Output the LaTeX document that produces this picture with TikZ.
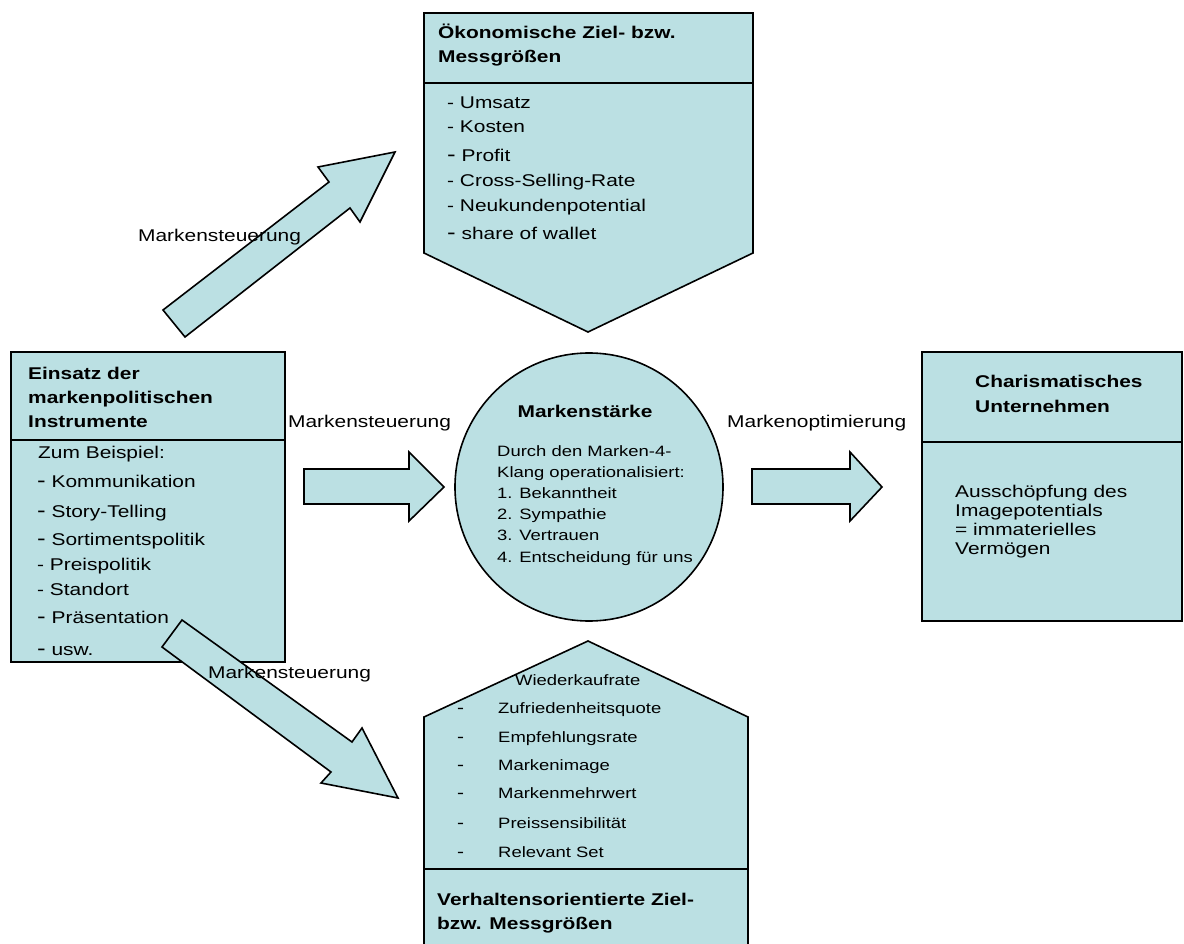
\documentclass[tikz,border=0pt]{standalone}
\usepackage{fontspec}
\setmainfont{Liberation Sans}[FakeStretch=1.23]
\definecolor{boxfill}{RGB}{187,224,227}
\newcommand\bigdsh{{\fontsize{21}{21}\selectfont -}}
\begin{document}
\begin{tikzpicture}[x=1pt,y=-1pt,
  blockshape/.style={draw=black,line width=1.6pt,fill=boxfill,line join=miter},
  divider/.style={draw=black,line width=1.6pt},
  txt/.style={anchor=base west,inner sep=0pt,font=\fontsize{17}{20}\selectfont},
  ttl/.style={anchor=base west,inner sep=0pt,font=\fontsize{17}{20}\selectfont\bfseries},
  sml/.style={anchor=base west,inner sep=0pt,font=\fontsize{15}{18}\selectfont}]
\clip (0,0) rectangle (1184,944);
\fill[white] (0,0) rectangle (1184,944);

% top box (pentagon pointing down)
\path[blockshape] (424,13) -- (753,13) -- (753,253) -- (588,332) -- (424,253) -- cycle;
\path[divider] (424,83) -- (753,83);
\node[ttl] (topT1) at (438,39) {Ökonomische Ziel- bzw.};
\node[ttl] (topT2) at (438,63) {Messgrößen};
\node[txt] (topI1) at (447,109) {- Umsatz};
\node[txt] (topI2) at (447,133) {- Kosten};
\node[txt] (topI3) at (447,162) {\bigdsh\ Profit};
\node[txt] (topI4) at (447,187) {- Cross-Selling-Rate};
\node[txt] (topI5) at (447,212) {- Neukundenpotential};
\node[txt] (topI6) at (447,240) {\bigdsh\ share of wallet};

% left box
\path[blockshape] (11,352) rectangle (285,662);
\path[divider] (11,440) -- (285,440);
\node[ttl] (leftT1) at (28,379) {Einsatz der};
\node[ttl] (leftT2) at (28,403) {markenpolitischen};
\node[ttl] (leftT3) at (28,427) {Instrumente};
\node[txt] (leftI0) at (38,458) {Zum Beispiel:};
\node[txt] (leftI1) at (37,487) {\bigdsh\ Kommunikation};
\node[txt] (leftI2) at (37,517) {\bigdsh\ Story-Telling};
\node[txt] (leftI3) at (37,545) {\bigdsh\ Sortimentspolitik};
\node[txt] (leftI4) at (37,570) {- Preispolitik};
\node[txt] (leftI5) at (37,595) {- Standort};
\node[txt] (leftI6) at (37,623) {\bigdsh\ Präsentation};
\node[txt] (leftI7) at (37,655) {\bigdsh\ usw.};

% circle
\path[blockshape] (589,487) circle (134);
\node[ttl,anchor=base] (circT) at (585,417) {Markenstärke};
\node[sml] (circ1) at (497,456) {Durch den Marken-4-};
\node[sml] (circ2) at (497,477) {Klang operationalisiert:};
\node[sml] (circ3) at (497,498) {1. Bekanntheit};
\node[sml] (circ4) at (497,519) {2. Sympathie};
\node[sml] (circ5) at (497,540) {3. Vertrauen};
\node[sml] (circ6) at (497,562) {4. Entscheidung für uns};

% right box
\path[blockshape] (922,352) rectangle (1182,621);
\path[divider] (922,442) -- (1182,442);
\node[ttl] (rightT1) at (975,387) {Charismatisches};
\node[ttl] (rightT2) at (975,412) {Unternehmen};
\node[txt] (rightI1) at (955,497) {Ausschöpfung des};
\node[txt] (rightI2) at (955,516) {Imagepotentials};
\node[txt] (rightI3) at (955,535) {= immaterielles};
\node[txt] (rightI4) at (955,554) {Vermögen};

% bottom box (pentagon pointing up)
\path[blockshape] (424,717) -- (588,641) -- (748,717) -- (748,960) -- (424,960) -- cycle;
\path[divider] (424,869) -- (748,869);
\node[sml] (botI1) at (515,685) {Wiederkaufrate};
\foreach \yy/\tx [count=\i from 2] in {713/Zufriedenheitsquote,742/Empfehlungsrate,770/Markenimage,798/Markenmehrwert,828/Preissensibilität,857/Relevant Set}{
  \node[txt] (botD\i) at (457,\yy) {-};
  \node[sml] (botI\i) at (498,\yy) {\tx};
}
\node[ttl] (botT1) at (437,905) {Verhaltensorientierte Ziel-};
\node[ttl] (botT2) at (437,929) {bzw. Messgrößen};

% block arrows
\path[blockshape] (163,310) -- (329,182) -- (318,167) -- (395,152) -- (360,222) -- (350,208) -- (185,337) -- cycle;
\path[blockshape] (182,620) -- (352,742) -- (362,728) -- (398,798) -- (321,783) -- (331,772) -- (162,647) -- cycle;
\path[blockshape] (304,469) -- (409,469) -- (409,452) -- (444,487) -- (409,521) -- (409,504) -- (304,504) -- cycle;
\path[blockshape] (752,469) -- (850,469) -- (850,452) -- (882,487) -- (850,521) -- (850,504) -- (752,504) -- cycle;

% labels
\node[txt] (lab1) at (138,242) {Markensteuerung};
\node[txt] (lab2) at (288,427) {Markensteuerung};
\node[txt] (lab3) at (727,427) {Markenoptimierung};
\node[txt] (lab4) at (208,678) {Markensteuerung};
\end{tikzpicture}
\end{document}
